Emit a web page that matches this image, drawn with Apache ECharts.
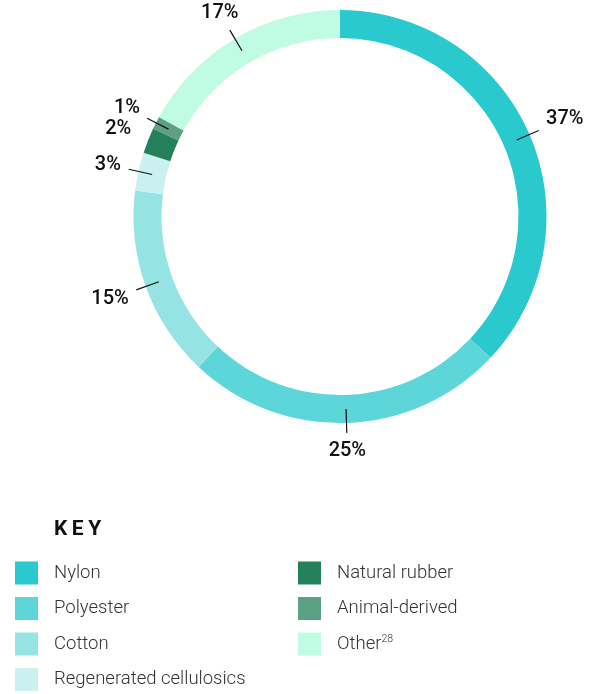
<!DOCTYPE html>
<html>
<head>
<meta charset="utf-8">
<script src="https://cdn.jsdelivr.net/npm/echarts@6/dist/echarts.min.js"></script>
<style>
  html, body { margin: 0; padding: 0; background: #fff; }
  #chart { width: 596px; height: 694px; }
</style>
</head>
<body>
<div id="chart"></div>
<script>
// fibre mix, clockwise from 12 o'clock
const fibreNames = [
  "Nylon",
  "Polyester",
  "Cotton",
  "Regenerated cellulosics",
  "Natural rubber",
  "Animal-derived",
  "Other",
];
const fibreShares = [37, 25, 15, 3, 2, 1, 17];
const fibreColors = [
  "#2ac9ce",
  "#5dd6da",
  "#96e3e4",
  "#caf0ef",
  "#25815c",
  "#5da184",
  "#c0fce3",
];
const leftKey = fibreNames.slice(0, 4);
const rightKey = fibreNames.slice(4);

const pieData = fibreNames.map((name, i) => ({
  name: name,
  value: fibreShares[i],
  itemStyle: { color: fibreColors[i] },
}));
const ghostData = fibreNames.map((name, i) => ({
  name: name,
  value: fibreShares[i],
  itemStyle: { color: "rgba(0,0,0,0)" },
}));

const center = [340, 216.5];

const pctFont = {
  formatter: "{c}%",
  fontFamily: "Roboto",
  fontWeight: 500,
  fontSize: 20,
};

// put each label just past the end of its leader line
function placeLabel(p) {
  const pts = p.labelLinePoints;
  if (!pts) return {};
  const a = pts[0];
  const b = pts[1];
  let dx = b[0] - a[0];
  let dy = b[1] - a[1];
  const len = Math.sqrt(dx * dx + dy * dy) || 1;
  dx /= len;
  dy /= len;
  const hw = p.labelRect.width / 2;
  const hh = p.labelRect.height / 2;
  const d =
    Math.min(
      Math.abs(dx) > 1e-6 ? hw / Math.abs(dx) : Infinity,
      Math.abs(dy) > 1e-6 ? hh / Math.abs(dy) : Infinity
    ) + 8;
  return {
    x: b[0] + dx * d,
    y: b[1] + dy * d,
    align: "center",
    verticalAlign: "middle",
  };
}

const keyText = {
  color: "#333",
  fontFamily: "Roboto",
  fontWeight: 300,
  fontSize: 18.5,
  padding: [0, 0, 0, 11],
  rich: {
    sup: {
      color: "#333",
      fontFamily: "Roboto",
      fontWeight: 300,
      fontSize: 10.5,
      verticalAlign: "bottom",
      padding: [0, 0, 9, 0],
    },
  },
};

const keyLegend = {
  orient: "vertical",
  top: 561.5,
  height: 200,
  padding: 0,
  icon: "rect",
  itemWidth: 23,
  itemHeight: 23,
  itemGap: 12.5,
  selectedMode: false,
  textStyle: keyText,
};

const chart = echarts.init(document.getElementById("chart"), null, {
  renderer: "canvas",
});

chart.setOption({
  animation: false,
  title: {
    text: "{s|K}{s|E}{s|Y}",
    left: 54,
    top: 519,
    padding: 0,
    textStyle: {
      rich: {
        s: {
          color: "#111",
          fontFamily: "Roboto",
          fontWeight: "bold",
          fontSize: 21,
          padding: [0, 4.5, 0, 0],
        },
      },
    },
  },
  legend: [
    Object.assign({}, keyLegend, { data: leftKey, left: 15 }),
    Object.assign({}, keyLegend, {
      data: rightKey,
      left: 298,
      formatter: function (name) {
        return name === "Other" ? "Other{sup|28}" : name;
      },
    }),
  ],
  series: [
    {
      // the ring itself
      type: "pie",
      z: 2,
      center: center,
      radius: [178.5, 206.5],
      startAngle: 90,
      clockwise: true,
      silent: true,
      label: { show: false },
      labelLine: { show: false },
      emphasis: { disabled: true },
      data: pieData,
    },
    {
      // invisible copy: leader lines from mid-ring, its own labels hidden
      type: "pie",
      z: 5,
      center: center,
      radius: [0, 192.5],
      startAngle: 90,
      clockwise: true,
      silent: true,
      avoidLabelOverlap: false,
      emphasis: { disabled: true },
      label: Object.assign({ show: true, color: "rgba(0,0,0,0)" }, pctFont),
      labelLine: {
        show: true,
        length: 24,
        length2: 0,
        lineStyle: { color: "#111", width: 1.2 },
      },
      data: ghostData,
    },
    {
      // invisible copy: the percentage labels, moved past the line ends
      type: "pie",
      z: 5,
      center: center,
      radius: [0, 192.5],
      startAngle: 90,
      clockwise: true,
      silent: true,
      avoidLabelOverlap: false,
      emphasis: { disabled: true },
      label: Object.assign({ show: true, color: "#111" }, pctFont),
      labelLine: {
        show: true,
        length: 24,
        length2: 0,
        lineStyle: { color: "rgba(0,0,0,0)", width: 0 },
      },
      labelLayout: placeLabel,
      data: ghostData,
    },
  ],
});
</script>
</body>
</html>
